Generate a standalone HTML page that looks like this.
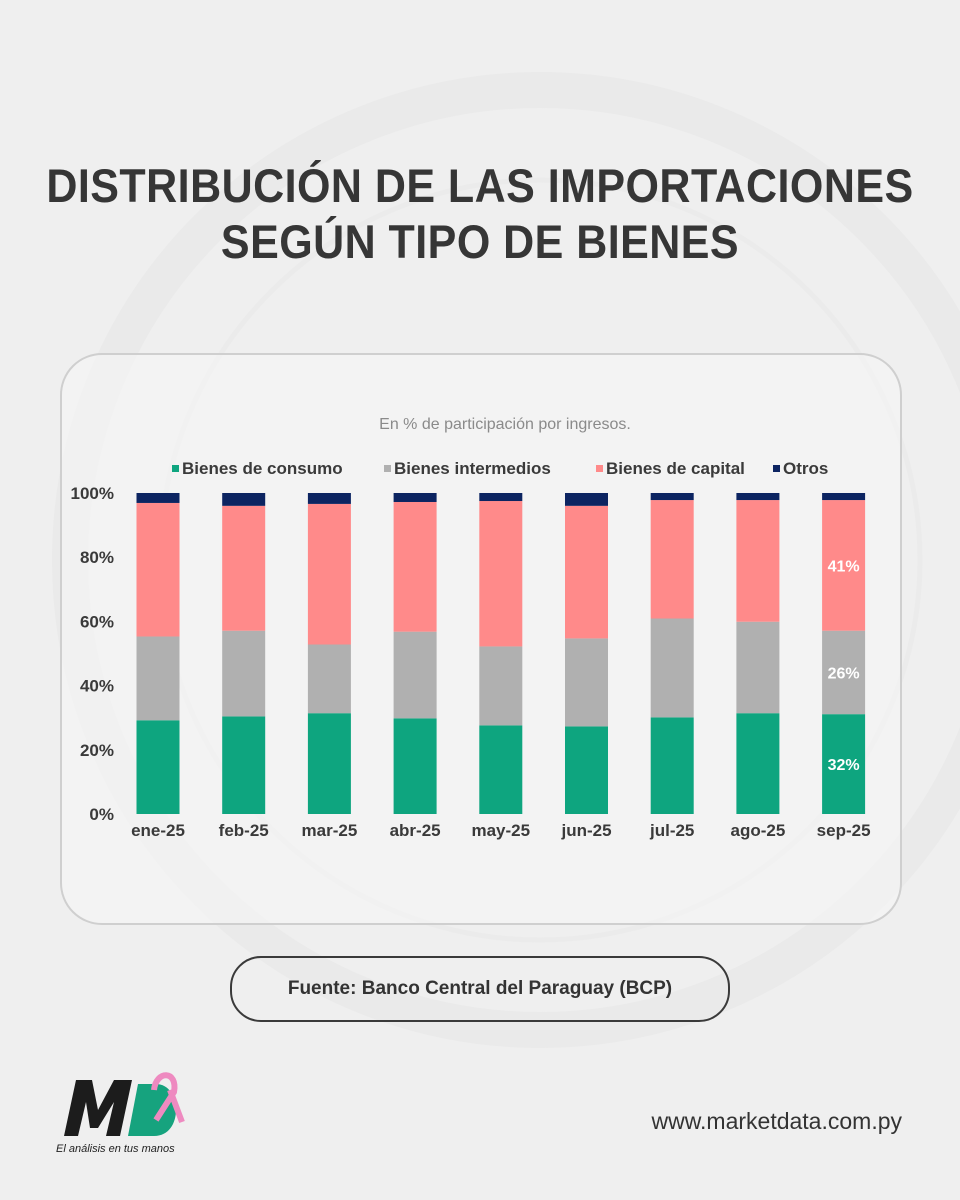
<!DOCTYPE html>
<html><head><meta charset="utf-8">
<style>
html,body{margin:0;padding:0}
body{width:960px;height:1200px;background:#efefef;position:relative;overflow:hidden;font-family:"Liberation Sans","DejaVu Sans",sans-serif}
.title{position:absolute;left:0;width:960px;top:158px;text-align:center;font-weight:bold;font-size:47px;line-height:56px;color:#363636;transform:scaleX(0.915);letter-spacing:0.5px}
.card{position:absolute;left:60px;top:353px;width:838px;height:568px;border:2px solid #cfcfcf;border-radius:42px;background:rgba(245,245,245,0.6)}
.src{position:absolute;left:230px;top:956px;width:496px;height:62px;border:2px solid #3a3a3a;border-radius:31px;text-align:center;line-height:62px;font-weight:bold;font-size:19px;color:#333}
.url{position:absolute;right:58px;top:1108px;font-size:23px;color:#333}
.tag{position:absolute;left:56px;top:1143px;font-size:11px;font-style:italic;color:#222}
</style></head><body>
<svg style="position:absolute;left:0;top:0" width="960" height="1200">
<circle cx="540" cy="560" r="470" fill="none" stroke="#eaeaea" stroke-width="36"/>
<circle cx="540" cy="560" r="380" fill="none" stroke="#ebebeb" stroke-width="5"/>
</svg>
<div class="title">DISTRIBUCIÓN DE LAS IMPORTACIONES<br>SEGÚN TIPO DE BIENES</div>
<div class="card"></div>
<svg id="chart" style="position:absolute;left:0;top:0" width="960" height="1200"></svg>
<div class="src">Fuente: Banco Central del Paraguay (BCP)</div>
<svg style="position:absolute;left:58px;top:1070px" width="130" height="72">
<polygon points="6,66 18,10 34,10 40,40 56,10 74,10 62,66 48,66 56,32 40,58 32,58 28,32 20,66" fill="#1c1c1c"/>
<path d="M70,66 L80,14 L98,14 C124,14 126,66 96,66 Z" fill="#16a37e"/>
<path d="M96,20 C98,0 120,0 116,22 L98,50 M112,20 L124,52" stroke="#ee8ac0" stroke-width="6" fill="none"/>
</svg>
<div class="tag">El análisis en tus manos</div>
<div class="url">www.marketdata.com.py</div>
<script>
const categories=["ene-25","feb-25","mar-25","abr-25","may-25","jun-25","jul-25","ago-25","sep-25"];
const consumo=[29.2,30.4,31.4,29.8,27.6,27.3,30.1,31.4,31.1];
const intermedios=[26.1,26.7,21.4,27.0,24.6,27.4,30.8,28.5,26.0];
const capital=[41.6,38.9,43.8,40.4,45.3,41.3,36.9,37.9,40.7];
const otros=[3.1,4.0,3.4,2.8,2.5,4.0,2.2,2.2,2.2];
const yTicks=[0,20,40,60,80,100];
const seriesNames=["Bienes de consumo","Bienes intermedios","Bienes de capital","Otros"];
const lastLabels=["32%","26%","41%"];
const colors=["#0ea57f","#b0b0b0","#ff8a8a","#0c2461"];
const NS="http://www.w3.org/2000/svg",svg=document.getElementById("chart");
const y0=814,y1=493,x0=158,dx=85.7,bw=43;
const Y=v=>y0-(v/100)*(y0-y1);
const X=i=>x0+i*dx;
function mk(t,a,txt){const e=document.createElementNS(NS,t);for(const k in a)e.setAttribute(k,a[k]);if(txt!=null)e.textContent=txt;svg.appendChild(e);return e;}
const sub=mk("text",{x:505,y:429,"text-anchor":"middle","font-size":16,fill:"#8a8a8a"},"En % de participación por ingresos.");


const legX=[172,384,596,773];
seriesNames.forEach((n,i)=>{
 const r=mk("rect",{x:legX[i],y:465,width:7,height:7,fill:colors[i]});
 
 
 const t=mk("text",{x:legX[i]+10,y:474,"font-size":17,"font-weight":"bold",fill:"#3a3a3a"},n);
 
 
});
yTicks.forEach(v=>{
 const t=mk("text",{x:114,y:Y(v)+6,"text-anchor":"end","font-size":17,"font-weight":"bold",fill:"#3a3a3a"},v+"%");
 
 
});
const series=[consumo,intermedios,capital,otros];
categories.forEach((c,i)=>{
 let acc=0;
 series.forEach((s,k)=>{
  const r=mk("rect",{x:X(i)-bw/2,y:Y(acc+s[i]),width:bw,height:Y(acc)-Y(acc+s[i]),fill:colors[k]});
  
  
  if(i===categories.length-1&&k<3){
   const t=mk("text",{x:X(i),y:(Y(acc)+Y(acc+s[i]))/2+6,"text-anchor":"middle","font-size":16,"font-weight":"bold",fill:"#fff"},lastLabels[k]);
   
   
  }
  acc+=s[i];
 });
 const t=mk("text",{x:X(i),y:836,"text-anchor":"middle","font-size":17,"font-weight":"bold",fill:"#3a3a3a"},c);
 
 
});
</script>
</body></html>
